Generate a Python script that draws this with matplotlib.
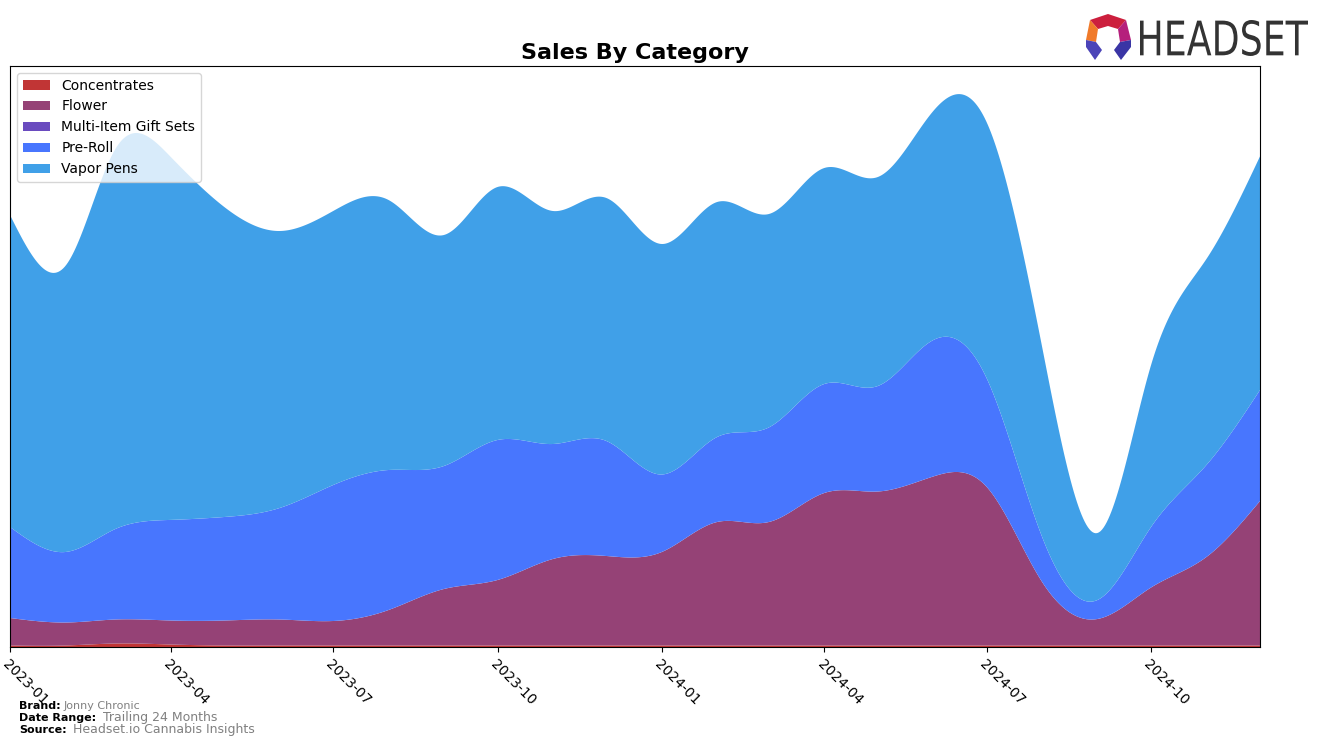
import numpy as np
import pandas as pd
import matplotlib
matplotlib.use("Agg")
import matplotlib.pyplot as plt
import matplotlib.dates as mdates
from matplotlib.patches import Polygon, PathPatch
from matplotlib.textpath import TextPath
from matplotlib.font_manager import FontProperties
from matplotlib.transforms import Affine2D

# monthly sales by category (arbitrary units)
months = pd.date_range("2023-01-01", "2024-12-01", freq="MS")
concentrates = [1.5, 1.5, 3.5, 2.5, 1.5, 1.5, 1.5, 1.5, 1.5, 1.5, 1.5, 1.5,
                1.5, 1.5, 1.5, 1.5, 1.5, 1.5, 1.5, 1.5, 1.5, 1.5, 1.5, 1.5]
flower = [27.5, 23, 24, 24, 25, 26, 24.5, 35.5, 56.5, 65.5, 86.5, 89.5,
          93.5, 123.5, 123.5, 152.5, 154, 169, 158.5, 63.5, 26.5, 58, 88.5, 144.5]
gift_sets = [0] * 24
pre_roll = [91, 70.5, 90.5, 100.6, 103.5, 111.5, 136, 140, 123, 140, 115, 115,
            77.5, 85, 94.6, 109, 105.5, 136.4, 108.5, 45, 19, 60.5, 92, 111]
vapor_pens = [312, 286, 380, 363, 310, 277, 274, 270, 231, 253, 233, 243,
              230.5, 235, 213.4, 216, 209, 229, 256, 190, 67, 162, 206, 233.6]

colors = ["#c13535", "#954276", "#6a4bbf", "#4876fe", "#40a0e8"]
labels = ["Concentrates", "Flower", "Multi-Item Gift Sets", "Pre-Roll", "Vapor Pens"]


def natural_spline(x, y, xs):
    x = np.asarray(x, float)
    y = np.asarray(y, float)
    n = len(x)
    h = np.diff(x)
    A = np.zeros((n, n))
    b = np.zeros(n)
    A[0, 0] = A[-1, -1] = 1
    for i in range(1, n - 1):
        A[i, i - 1] = h[i - 1]
        A[i, i] = 2 * (h[i - 1] + h[i])
        A[i, i + 1] = h[i]
        b[i] = 6 * ((y[i + 1] - y[i]) / h[i] - (y[i] - y[i - 1]) / h[i - 1])
    m = np.linalg.solve(A, b)
    idx = np.clip(np.searchsorted(x, xs) - 1, 0, n - 2)
    x0, x1 = x[idx], x[idx + 1]
    hh = x1 - x0
    t0, t1 = x1 - xs, xs - x0
    return (m[idx] * t0 ** 3 / (6 * hh) + m[idx + 1] * t1 ** 3 / (6 * hh)
            + (y[idx] / hh - m[idx] * hh / 6) * t0
            + (y[idx + 1] / hh - m[idx + 1] * hh / 6) * t1)


xnum = mdates.date2num(months)
xs = np.linspace(xnum[0], xnum[-1], 800)
series = [concentrates, flower, gift_sets, pre_roll, vapor_pens]
smooth = [np.clip(natural_spline(xnum, s, xs), 0, None) for s in series]

fig = plt.figure(figsize=(13.24, 7.46), dpi=100)
ax = fig.add_axes([10 / 1324, 99 / 746, 1250 / 1324, 581 / 746])
ax.stackplot(xs, *smooth, colors=colors, labels=labels)
ax.set_xlim(xnum[0], xnum[-1])
ax.set_ylim(0, 581)
ax.set_yticks([])
ax.xaxis.set_major_locator(mdates.MonthLocator(bymonth=[1, 4, 7, 10]))
ax.xaxis.set_major_formatter(mdates.DateFormatter("%Y-%m"))
plt.setp(ax.get_xticklabels(), rotation=-45, ha="left", rotation_mode="anchor", fontsize=10)
ax.set_title("Sales By Category", fontsize=16, fontweight="bold", pad=5)
ax.legend(loc="upper left", fontsize=10)

# footer
fig.text(19 / 1324, 1 - 706 / 746, "Brand:", fontsize=8, fontweight="bold", va="center")
fig.text(64 / 1324, 1 - 706 / 746, "Jonny Chronic", fontsize=8, color="gray", va="center")
fig.text(19 / 1324, 1 - 718 / 746, "Date Range:", fontsize=8, fontweight="bold", va="center")
fig.text(103 / 1324, 1 - 718 / 746, "Trailing 24 Months", fontsize=9, color="gray", va="center")
fig.text(19 / 1324, 1 - 730 / 746, "Source:", fontsize=8, fontweight="bold", va="center")
fig.text(73 / 1324, 1 - 730 / 746, "Headset.io Cannabis Insights", fontsize=9, color="gray", va="center")

# logo
lax = fig.add_axes([0, 0, 1, 1], zorder=5)
lax.set_xlim(0, 1324)
lax.set_ylim(746, 0)
lax.axis("off")
T, UR, R, UL, L = (1108, 14), (1126, 20), (1131, 40), (1090, 20), (1086, 40)
t, ur, r, ul, l = (1108, 26), (1118, 29), (1120, 42), (1098, 29), (1096, 42)
pieces = [
    ([UL, T, UR, ur, t, ul], "#cc1f3d"),
    ([UL, ul, l, L], "#f07a2a"),
    ([UR, R, r, ur], "#b51f7c"),
    ([L, l, (1102, 50), (1095, 60), (1086, 47)], "#4b44b8"),
    ([R, (1131, 47), (1121, 60), (1114, 50), r], "#3a35a5"),
]
for pts, c in pieces:
    lax.add_patch(Polygon(pts, closed=True, facecolor=c, edgecolor="none"))
tp = TextPath((0, 0), "HEADSET", size=10, prop=FontProperties(family="DejaVu Sans"))
bb = tp.get_extents()
sx = (1308 - 1140) / bb.width
sy = (56 - 20) / bb.height
tr = Affine2D().translate(-bb.x0, -bb.y0).scale(sx, -sy).translate(1140, 56)
lax.add_patch(PathPatch(tr.transform_path(tp), facecolor="#333333", edgecolor="none"))

fig.savefig("out.png", dpi=100)
